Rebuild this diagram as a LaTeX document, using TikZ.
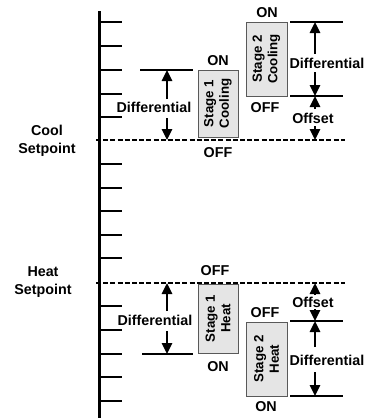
\documentclass[tikz,border=0pt]{standalone}
\usepackage{fontspec}
\setmainfont{Liberation Sans}
\usetikzlibrary{arrows.meta}
\begin{document}
\begin{tikzpicture}[x=1pt,y=-1pt,
  lbl/.style={font=\fontsize{14.3}{17.5}\selectfont\bfseries, inner sep=0pt, align=center},
  stagebox/.style={draw=black!65, fill=black!10, line width=0.9pt, rotate=90, inner sep=0pt,
    align=center, font=\fontsize{13.3}{15.5}\selectfont\bfseries},
  tickline/.style={line width=1.4pt},
  limline/.style={line width=1.4pt},
  spline/.style={line width=2.3pt, dash pattern=on 5pt off 2.2pt},
  arr/.style={line width=2.6pt, -{Triangle[width=10pt,length=11pt]}},
]
\useasboundingbox (0,0) rectangle (375,418);

% axis and ticks
\coordinate (axtop) at (99.5,11);
\coordinate (axbot) at (99.5,418);
\draw[line width=3.5pt] (axtop) -- (axbot);
\foreach \y in {22,46,70,94,117,164,188,211,235,258,306,330,354,377,401}
  \draw[tickline] (99,\y) -- (122,\y);

% setpoint lines
\coordinate (cool0) at (96,140);
\coordinate (cool1) at (345,140);
\coordinate (heat0) at (96,283);
\coordinate (heat1) at (345,283);
\draw[spline] (cool0) -- (cool1);
\draw[spline] (heat0) -- (heat1);

\node[lbl] (coolsp) at (47,141) {Cool\\Setpoint};
\node[lbl] (heatsp) at (43,282) {Heat\\Setpoint};

% stage boxes
\node[stagebox, minimum width=67pt, minimum height=40pt] (s1c) at (218,103.5) {Stage 1\\Cooling};
\node[stagebox, minimum width=74pt, minimum height=41pt] (s2c) at (266.5,59) {Stage 2\\Cooling};
\node[stagebox, minimum width=69pt, minimum height=40pt] (s1h) at (218,318.5) {Stage 1\\Heat};
\node[stagebox, minimum width=74pt, minimum height=41pt] (s2h) at (266.5,359) {Stage 2\\Heat};

% ON / OFF labels
\node[lbl] (s1con) at (218,61) {ON};
\node[lbl] (s1coff) at (218,153) {OFF};
\node[lbl] (s2con) at (267,13) {ON};
\node[lbl] (s2coff) at (265,108) {OFF};
\node[lbl] (s1hoff) at (215,271) {OFF};
\node[lbl] (s1hon) at (218,367) {ON};
\node[lbl] (s2hoff) at (265,313) {OFF};
\node[lbl] (s2hon) at (266,407) {ON};

% limit lines
\coordinate (l1a) at (140,70);  \coordinate (l1b) at (193,70);
\coordinate (l2a) at (290,22);  \coordinate (l2b) at (343,22);
\coordinate (l3a) at (290,96);  \coordinate (l3b) at (343,96);
\coordinate (l4a) at (142,354); \coordinate (l4b) at (193,354);
\coordinate (l5a) at (290,321); \coordinate (l5b) at (343,321);
\coordinate (l6a) at (290,396); \coordinate (l6b) at (343,396);
\draw[limline] (l1a) -- (l1b);
\draw[limline] (l2a) -- (l2b);
\draw[limline] (l3a) -- (l3b);
\draw[limline] (l4a) -- (l4b);
\draw[limline] (l5a) -- (l5b);
\draw[limline] (l6a) -- (l6b);

% labels
\node[lbl] (d1) at (154,107) {Differential};
\node[lbl] (d2) at (327,63) {Differential};
\node[lbl] (o2) at (313,118) {Offset};
\node[lbl] (d3) at (155,320) {Differential};
\node[lbl] (o4) at (313,302) {Offset};
\node[lbl] (d4) at (327,360) {Differential};

% arrows: cooling stage 1 differential
\coordinate (a1s) at (167,99);  \coordinate (a1e) at (167,70);
\coordinate (a2s) at (167,118); \coordinate (a2e) at (167,140);
\draw[arr] (a1s) -- (a1e);
\draw[arr] (a2s) -- (a2e);
% cooling stage 2 differential and offset
\coordinate (b1s) at (315,54);  \coordinate (b1e) at (315,22);
\coordinate (b2s) at (315,72);  \coordinate (b2e) at (315,96);
\coordinate (b3s) at (315,109); \coordinate (b3e) at (315,96);
\coordinate (b4s) at (315,126); \coordinate (b4e) at (315,140);
\draw[arr] (b1s) -- (b1e);
\draw[arr] (b2s) -- (b2e);
\draw[arr] (b3s) -- (b3e);
\draw[arr] (b4s) -- (b4e);
% heating stage 1 differential
\coordinate (c1s) at (167,311); \coordinate (c1e) at (167,283);
\coordinate (c2s) at (167,331); \coordinate (c2e) at (167,354);
\draw[arr] (c1s) -- (c1e);
\draw[arr] (c2s) -- (c2e);
% heating stage 2 offset and differential
\coordinate (e1s) at (315,295); \coordinate (e1e) at (315,283);
\coordinate (e2s) at (315,309); \coordinate (e2e) at (315,321);
\coordinate (e3s) at (315,347); \coordinate (e3e) at (315,321);
\coordinate (e4s) at (315,372); \coordinate (e4e) at (315,396);
\draw[arr] (e1s) -- (e1e);
\draw[arr] (e2s) -- (e2e);
\draw[arr] (e3s) -- (e3e);
\draw[arr] (e4s) -- (e4e);
\end{tikzpicture}
\end{document}
